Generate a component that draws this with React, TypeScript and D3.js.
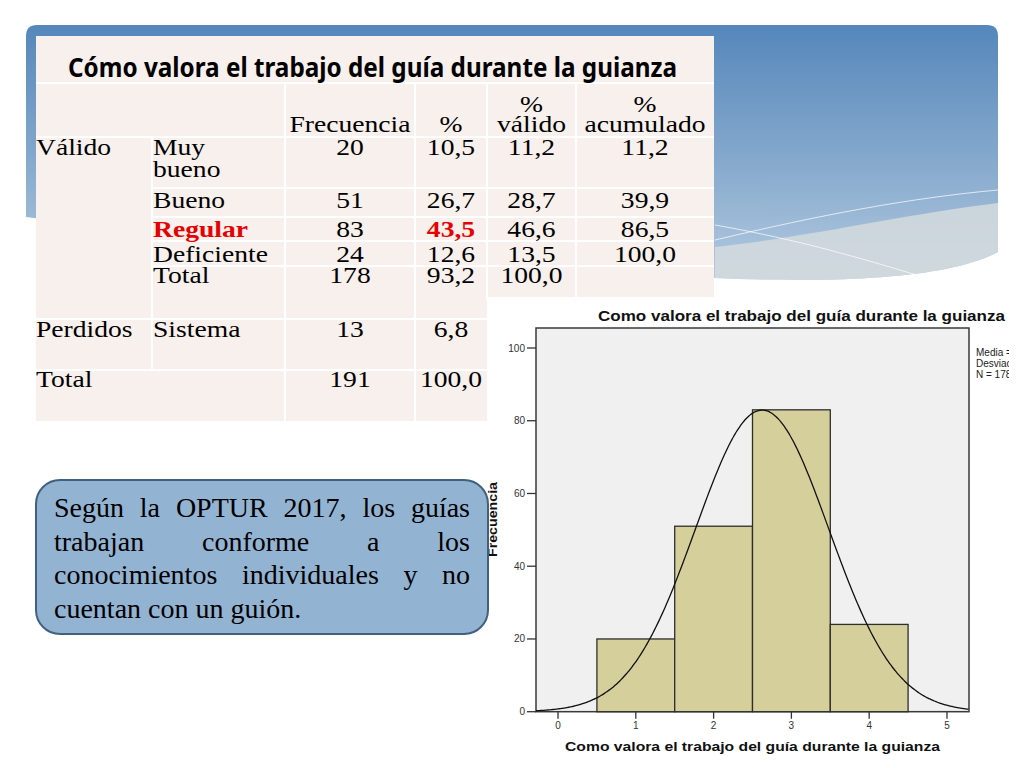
import * as d3 from 'd3';

// datos del histograma (SPSS)
const categoryCodes = [1, 2, 3, 4];
const frequencies = [20, 51, 83, 24];
const yTickValues = [0, 20, 40, 60, 80, 100];
const xTickValues = [0, 1, 2, 3, 4, 5];

// datos de la tabla
const tableTitle = 'Cómo valora el trabajo del guía durante la guianza';
const chartTitle = 'Como valora el trabajo del guía durante la guianza';
const validLabels = ['Muy', 'Bueno', 'Regular', 'Deficiente', 'Total'];
const validFreq = ['20', '51', '83', '24', '178'];
const validPct = ['10,5', '26,7', '43,5', '12,6', '93,2'];
const validValidPct = ['11,2', '28,7', '46,6', '13,5', '100,0'];
const validCumPct = ['11,2', '39,9', '86,5', '100,0', ''];
const missingRow = ['Perdidos', 'Sistema', '13', '6,8'];
const totalRow = ['Total', '191', '100,0'];
const highlightLabel = 'Regular';

const boxLines = [
    'Según la OPTUR 2017, los guías',
    'trabajan conforme a los',
    'conocimientos individuales y no',
    'cuentan con un guión.',
];

const SERIF = "'Liberation Serif', 'Times New Roman', serif";
const SANS = "'Liberation Sans', Arial, sans-serif";

function TT({ x, y, anchor = 'start', fill = '#000', bold = false, children }: any) {
    return (
        <text
            transform={`translate(${x},${y}) scale(1.15,1)`}
            textAnchor={anchor}
            fontFamily={SERIF}
            fontSize={24}
            fontWeight={bold ? 'bold' : 'normal'}
            fill={fill}
        >
            {children}
        </text>
    );
}

function Background() {
    return (
        <g>
            <defs>
                <linearGradient id="bg" x1="0" y1="0" x2="0" y2="1">
                    <stop offset="0%" stopColor="#5587bb" />
                    <stop offset="55%" stopColor="#87aacd" />
                    <stop offset="100%" stopColor="#b3cae0" />
                </linearGradient>
            </defs>
            <path
                d="M26,36 Q26,25 37,25 H987 Q998,25 998,36 V252 C960,272 880,285 715,278 C500,290 200,240 26,217 Z"
                fill="url(#bg)"
            />
            <path
                d="M715,247 C820,235 900,215 998,203 V252 C960,272 880,285 715,278 Z"
                fill="#d4dadd"
                opacity={0.85}
            />
            <path d="M715,240 C820,215 910,198 998,190" fill="none" stroke="#ffffff" strokeOpacity={0.7} strokeWidth={1} />
            <path d="M715,225 C800,240 860,258 920,276" fill="none" stroke="#ffffff" strokeOpacity={0.7} strokeWidth={1} />
        </g>
    );
}

function Table() {
    const left = 36, right = 714, lowRight = 487;
    const c1 = 152, c2 = 285, c3 = 415, c4 = 487, c5 = 576;
    const cFreq = (c2 + c3) / 2, cPct = (c3 + c4) / 2, cVal = (c4 + c5) / 2, cCum = (c5 + right) / 2;
    const baselines = [155, 207.5, 236.5, 261.5, 283];
    const line = { stroke: '#ffffff', strokeWidth: 2 };
    return (
        <g>
            <rect x={left} y={36} width={right - left} height={385} fill="#f8f0ec" />
            {/* separadores */}
            <line x1={left} x2={right} y1={83} y2={83} {...line} />
            <line x1={left} x2={right} y1={137} y2={137} {...line} />
            {[188, 217, 241, 266].map(y => (
                <line key={y} x1={c1} x2={right} y1={y} y2={y} {...line} />
            ))}
            <line x1={left} x2={lowRight} y1={319} y2={319} {...line} />
            <line x1={left} x2={lowRight} y1={370} y2={370} {...line} />
            <line x1={c1} x2={c1} y1={137} y2={370} {...line} />
            <line x1={c2} x2={c2} y1={83} y2={421} {...line} />
            <line x1={c3} x2={c3} y1={83} y2={421} {...line} />
            <line x1={c4} x2={c4} y1={83} y2={300} {...line} />
            <line x1={c5} x2={c5} y1={83} y2={300} {...line} />

            <text
                x={68}
                y={77}
                fontFamily="'Liberation Sans Narrow', 'Noto Sans', sans-serif"
                fontWeight="bold"
                fontSize={26}
                textLength={609}
                lengthAdjust="spacingAndGlyphs"
            >
                {tableTitle}
            </text>

            {/* cabecera */}
            <TT x={cFreq} y={132} anchor="middle">Frecuencia</TT>
            <TT x={cPct} y={132} anchor="middle">%</TT>
            <TT x={cVal} y={112} anchor="middle">%</TT>
            <TT x={cVal} y={132} anchor="middle">válido</TT>
            <TT x={cCum} y={112} anchor="middle">%</TT>
            <TT x={cCum} y={132} anchor="middle">acumulado</TT>

            <TT x={left} y={baselines[0]}>Válido</TT>
            <TT x={c1 + 1} y={176.5}>bueno</TT>
            {validLabels.map((lab, i) => {
                const hl = lab === highlightLabel;
                return (
                    <g key={lab}>
                        <TT x={c1 + 1} y={baselines[i]} fill={hl ? '#e60000' : '#000'} bold={hl}>{lab}</TT>
                        <TT x={cFreq} y={baselines[i]} anchor="middle">{validFreq[i]}</TT>
                        <TT x={cPct} y={baselines[i]} anchor="middle" fill={hl ? '#e60000' : '#000'} bold={hl}>{validPct[i]}</TT>
                        <TT x={cVal} y={baselines[i]} anchor="middle">{validValidPct[i]}</TT>
                        <TT x={cCum} y={baselines[i]} anchor="middle">{validCumPct[i]}</TT>
                    </g>
                );
            })}

            <TT x={left} y={337}>{missingRow[0]}</TT>
            <TT x={c1 + 1} y={337}>{missingRow[1]}</TT>
            <TT x={cFreq} y={337} anchor="middle">{missingRow[2]}</TT>
            <TT x={cPct} y={337} anchor="middle">{missingRow[3]}</TT>

            <TT x={left} y={387}>{totalRow[0]}</TT>
            <TT x={cFreq} y={387} anchor="middle">{totalRow[1]}</TT>
            <TT x={cPct} y={387} anchor="middle">{totalRow[2]}</TT>
        </g>
    );
}

function Histogram() {
    const frame = { left: 536, right: 969, top: 328, bottom: 711.7 };
    const x = d3.scaleLinear().domain([-0.283, 5.283]).range([frame.left, frame.right]);
    const y = d3.scaleLinear().domain([0, 105.5]).range([frame.bottom, frame.top]);

    // ajuste normal a partir de las frecuencias
    const n = d3.sum(frequencies);
    const mean = d3.sum(categoryCodes, (c, i) => c * frequencies[i]) / n;
    const variance = d3.sum(categoryCodes, (c, i) => frequencies[i] * (c - mean) ** 2) / (n - 1);
    const sd = Math.sqrt(variance);
    const pdf = (v: number) => (n / (sd * Math.sqrt(2 * Math.PI))) * Math.exp(-((v - mean) ** 2) / (2 * variance));
    const curveX = d3.range(x.domain()[0], x.domain()[1], 0.02);
    const curvePath = d3.line<number>().x(v => x(v)).y(v => y(pdf(v))).curve(d3.curveBasis)(curveX) || '';

    const legend = [
        `Media = ${mean.toFixed(2).replace('.', ',')}`,
        `Desviación típica = ${sd.toFixed(3).replace('.', ',')}`,
        `N = ${n}`,
    ];

    return (
        <g>
            <defs>
                <clipPath id="plot">
                    <rect x={frame.left} y={frame.top} width={frame.right - frame.left} height={frame.bottom - frame.top} />
                </clipPath>
                {/* la imagen del gráfico termina antes del borde de la diapositiva */}
                <clipPath id="img">
                    <rect x={487} y={297} width={522} height={471} />
                </clipPath>
            </defs>
            <rect x={487} y={297} width={537} height={471} fill="#ffffff" />
            <text
                x={598}
                y={321}
                fontFamily={SANS}
                fontWeight="bold"
                fontSize={14}
                textLength={407}
                lengthAdjust="spacingAndGlyphs"
                fill="#111"
            >
                {chartTitle}
            </text>
            <rect
                x={frame.left}
                y={frame.top}
                width={frame.right - frame.left}
                height={frame.bottom - frame.top}
                fill="#f0f0f0"
                stroke="#3a3a3a"
                strokeWidth={1.5}
            />
            {categoryCodes.map((c, i) => (
                <rect
                    key={c}
                    x={x(c - 0.5)}
                    y={y(frequencies[i])}
                    width={x(c + 0.5) - x(c - 0.5)}
                    height={y(0) - y(frequencies[i])}
                    fill="#d4cf9b"
                    stroke="#2e2e2e"
                    strokeWidth={1.3}
                />
            ))}
            <path d={curvePath} fill="none" stroke="#111" strokeWidth={1.3} clipPath="url(#plot)" />

            {/* eje Y */}
            {yTickValues.map(t => (
                <g key={t}>
                    <line x1={frame.left - 9} x2={frame.left} y1={y(t)} y2={y(t)} stroke="#333" strokeWidth={1.3} />
                    <text x={frame.left - 11} y={y(t)} dy="0.35em" textAnchor="end" fontFamily={SANS} fontSize={10} fill="#333">
                        {t}
                    </text>
                </g>
            ))}
            {/* eje X */}
            {xTickValues.map(t => (
                <g key={t}>
                    <line x1={x(t)} x2={x(t)} y1={frame.bottom} y2={frame.bottom + 7} stroke="#333" strokeWidth={1.3} />
                    <text x={x(t)} y={frame.bottom + 17} textAnchor="middle" fontFamily={SANS} fontSize={10} fill="#333">
                        {t}
                    </text>
                </g>
            ))}
            <text
                x={565}
                y={751}
                fontFamily={SANS}
                fontWeight="bold"
                fontSize={13}
                textLength={375}
                lengthAdjust="spacingAndGlyphs"
                fill="#111"
            >
                {chartTitle}
            </text>
            <text
                transform={`translate(497,557) rotate(-90)`}
                fontFamily={SANS}
                fontWeight="bold"
                fontSize={13}
                textLength={75}
                lengthAdjust="spacingAndGlyphs"
                fill="#111"
            >
                Frecuencia
            </text>
            <g clipPath="url(#img)">
                {legend.map((l, i) => (
                    <text key={l} x={976} y={356 + i * 11} fontFamily={SANS} fontSize={10} fill="#222">
                        {l}
                    </text>
                ))}
            </g>
        </g>
    );
}

function NoteBox() {
    return (
        <g>
            <rect x={36} y={480} width={452} height={154} rx={24} fill="#93b3d3" stroke="#40607f" strokeWidth={2} />
            <foreignObject x={54} y={491} width={416} height={140}>
                <div style={{ fontFamily: SERIF, fontSize: 28, color: '#000' }}>
                    {boxLines.map((l, i) => (
                        <div
                            key={i}
                            style={{
                                height: 33.5,
                                lineHeight: '33.5px',
                                textAlign: i < boxLines.length - 1 ? 'justify' : 'left',
                                textAlignLast: i < boxLines.length - 1 ? 'justify' : 'left',
                                whiteSpace: 'nowrap',
                            }}
                        >
                            {l}
                        </div>
                    ))}
                </div>
            </foreignObject>
        </g>
    );
}

export default function App() {
    return (
        <svg
            width={1024}
            height={768}
            viewBox="0 0 1024 768"
            style={{ position: 'absolute', left: 0, top: 0, background: '#ffffff' }}
        >
            <rect x={0} y={0} width={1024} height={768} fill="#ffffff" />
            <Background />
            <Table />
            <Histogram />
            <NoteBox />
        </svg>
    );
}
